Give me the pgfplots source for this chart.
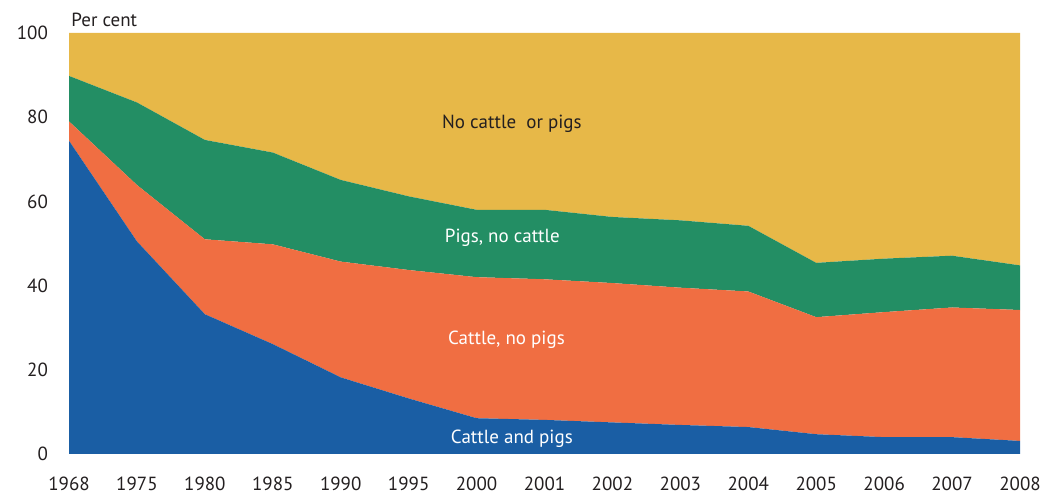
\documentclass[border=0pt]{standalone}
\usepackage{pgfplots}
\pgfplotsset{compat=1.18}
\usepackage{fontspec}
\setmainfont{PT Sans}
\definecolor{cpblue}{HTML}{1A5EA4}
\definecolor{cporange}{HTML}{F06E42}
\definecolor{cpgreen}{HTML}{238E64}
\definecolor{cpyellow}{HTML}{E7B848}
\definecolor{txt}{HTML}{231F20}

\begin{document}
\begin{tikzpicture}[lbl/.style={font=\fontsize{9.5}{11}\selectfont}]
\path[use as bounding box] (-34.5pt,-23.5pt) rectangle (492pt,227pt);
\begin{axis}[
    at={(0,0)}, anchor=origin,
    scale only axis,
    width=475.5pt, height=210.5pt,
    xmin=0, xmax=14, ymin=0, ymax=100,
    xtick={0,...,14},
    xticklabels={1968,1975,1980,1985,1990,1995,2000,2001,2002,2003,2004,2005,2006,2007,2008},
    ytick={0,20,40,60,80,100},
    axis line style={draw=none},
    major tick length=0pt,
    tick label style={font=\fontsize{9.5}{11}\selectfont, text=txt},
    xticklabel style={yshift=-8pt},
    yticklabel style={xshift=-7pt},
    /pgf/number format/assume math mode=true,
    stack plots=y,
    area style,
    clip=false,
]
% cattle and pigs
\addplot[fill=cpblue, draw=none] coordinates {
(0,74.4) (1,50.5) (2,33.2) (3,26.1) (4,18.2) (5,13.2) (6,8.5) (7,8.1)
(8,7.5) (9,6.9) (10,6.4) (11,4.7) (12,4.0) (13,4.0) (14,3.1)} \closedcycle;
% cattle, no pigs
\addplot[fill=cporange, draw=none] coordinates {
(0,4.6) (1,13.4) (2,17.8) (3,23.7) (4,27.5) (5,30.5) (6,33.5) (7,33.4)
(8,33.1) (9,32.6) (10,32.2) (11,27.8) (12,29.7) (13,30.8) (14,31.1)} \closedcycle;
% pigs, no cattle
\addplot[fill=cpgreen, draw=none] coordinates {
(0,10.8) (1,19.6) (2,23.6) (3,21.8) (4,19.4) (5,17.5) (6,16.0) (7,16.5)
(8,15.7) (9,16.0) (10,15.6) (11,12.9) (12,12.7) (13,12.3) (14,10.6)} \closedcycle;
% no cattle or pigs
\addplot[fill=cpyellow, draw=none] coordinates {
(0,10.2) (1,16.5) (2,25.4) (3,28.4) (4,34.9) (5,38.8) (6,42.0) (7,42.0)
(8,43.7) (9,44.5) (10,45.8) (11,54.6) (12,53.6) (13,52.9) (14,55.2)} \closedcycle;

\coordinate (lnone) at (rel axis cs:0.4657,0.784);
\coordinate (lpigs) at (rel axis cs:0.4557,0.513);
\coordinate (lcatt) at (rel axis cs:0.46,0.271);
\coordinate (lboth) at (rel axis cs:0.4657,0.036);
\coordinate (ltop) at (rel axis cs:0,1);
\end{axis}
\node[lbl, text=txt] at (lnone) {No cattle\ \ or pigs};
\node[lbl, text=white] at (lpigs) {Pigs, no cattle};
\node[lbl, text=white] at (lcatt) {Cattle, no pigs};
\node[lbl, text=white] at (lboth) {Cattle and pigs};
\node[lbl, text=txt, anchor=south west, inner sep=0pt] at ([shift={(1pt,3pt)}]ltop) {Per cent};
\end{tikzpicture}
\end{document}
